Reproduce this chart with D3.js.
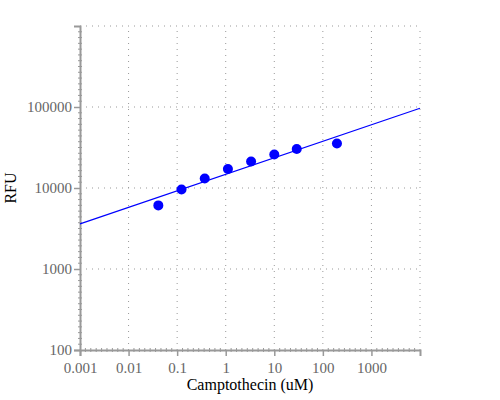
<!DOCTYPE html>
<html>
<head>
<meta charset="utf-8">
<script src="https://cdn.jsdelivr.net/npm/d3@7"></script>
<style>
body { margin: 0; background: #fff; }
svg { display: block; }
</style>
</head>
<body>
<div id="chart"></div>
<script>
// data
var conc = [0.041, 0.123, 0.37, 1.11, 3.33, 10, 29, 195];
var rfu = [6100, 9600, 13100, 17200, 21200, 25900, 30300, 35400];
// fitted line end points
var fitX = [0.001, 10000];
var fitY = [3600, 96500];
var xTicks = [0.001, 0.01, 0.1, 1, 10, 100, 1000];
var yTicks = [100, 1000, 10000, 100000];

var width = 500, height = 400;
var margin = {top: 26, right: 80, bottom: 50, left: 80};

var svg = d3.select("#chart").append("svg")
    .attr("width", width)
    .attr("height", height);

var x = d3.scaleLog().domain([0.001, 10000]).range([margin.left, width - margin.right]);
var y = d3.scaleLog().domain([100, 1000000]).range([height - margin.bottom, margin.top]);

var grey = "#999";
var font = "'Liberation Serif', 'DejaVu Serif', serif";

// dotted grid on every decade, including the far edges
var xGrid = [0.001, 0.01, 0.1, 1, 10, 100, 1000, 10000];
var yGrid = [100, 1000, 10000, 100000, 1000000];

svg.append("g").selectAll("line.vg")
    .data(xGrid.slice(1))
    .enter().append("line")
    .attr("x1", function(d) { return x(d); })
    .attr("x2", function(d) { return x(d); })
    .attr("y1", y(100))
    .attr("y2", y(1000000))
    .attr("stroke", grey)
    .attr("stroke-width", 1)
    .attr("stroke-dasharray", "1,5");

svg.append("g").selectAll("line.hg")
    .data(yGrid.slice(1))
    .enter().append("line")
    .attr("x1", x(0.001))
    .attr("x2", x(10000))
    .attr("y1", function(d) { return y(d); })
    .attr("y2", function(d) { return y(d); })
    .attr("stroke", grey)
    .attr("stroke-width", 1)
    .attr("stroke-dasharray", "1,5");

// minor ticks, evenly spaced inside each decade
var xMinor = [];
for (var k = -3; k < 4; k++) for (var j = 1; j < 9; j++) xMinor.push(Math.pow(10, k + j / 9));
var yMinor = [];
for (var k2 = 2; k2 < 6; k2++) for (var j2 = 1; j2 < 14; j2++) yMinor.push(Math.pow(10, k2 + j2 / 14));

var xAxis = d3.axisBottom(x).tickValues(xTicks).tickFormat(function(d) { return String(+d.toPrecision(1)); }).tickSizeOuter(0).tickSize(6);
var yAxis = d3.axisLeft(y).tickValues(yTicks).tickFormat(d3.format("d")).tickSizeOuter(0).tickSize(6);

var gx = svg.append("g")
    .attr("transform", "translate(0," + y(100) + ")")
    .call(xAxis);
var gy = svg.append("g")
    .attr("transform", "translate(" + x(0.001) + ",0)")
    .call(yAxis);

[gx, gy].forEach(function(g) {
    g.select(".domain").attr("stroke", grey).attr("stroke-width", 2);
    g.selectAll(".tick line").attr("stroke", grey).attr("stroke-width", 1.5);
    g.selectAll(".tick text")
        .attr("fill", "#666")
        .style("font-family", font)
        .style("font-size", "15px");
});
gx.selectAll(".tick text").attr("dy", "0.95em");
gy.selectAll(".tick text").attr("dx", "1px");

svg.append("g").selectAll("line")
    .data(xMinor)
    .enter().append("line")
    .attr("x1", function(d) { return x(d); })
    .attr("x2", function(d) { return x(d); })
    .attr("y1", y(100) - 2)
    .attr("y2", y(100) + 2)
    .attr("stroke", grey);

svg.append("g").selectAll("line")
    .data(yMinor)
    .enter().append("line")
    .attr("x1", x(0.001) - 2)
    .attr("x2", x(0.001) + 2)
    .attr("y1", function(d) { return y(d); })
    .attr("y2", function(d) { return y(d); })
    .attr("stroke", grey);

// fit line
var line = d3.line()
    .x(function(d) { return x(d[0]); })
    .y(function(d) { return y(d[1]); });

svg.append("path")
    .datum(d3.zip(fitX, fitY))
    .attr("d", line)
    .attr("fill", "none")
    .attr("stroke", "#0000ff")
    .attr("stroke-width", 1.2);

// points
svg.append("g").selectAll("circle")
    .data(d3.zip(conc, rfu))
    .enter().append("circle")
    .attr("cx", function(d) { return x(d[0]); })
    .attr("cy", function(d) { return y(d[1]); })
    .attr("r", 5)
    .attr("fill", "#0000ff");

// axis titles
svg.append("text")
    .attr("x", (x(0.001) + x(10000)) / 2)
    .attr("y", 390)
    .attr("text-anchor", "middle")
    .style("font-family", font)
    .style("font-size", "16px")
    .text("Camptothecin (uM)");

svg.append("text")
    .attr("transform", "translate(16," + ((y(100) + y(1000000)) / 2) + ") rotate(-90)")
    .attr("text-anchor", "middle")
    .style("font-family", font)
    .style("font-size", "16px")
    .text("RFU");
</script>
</body>
</html>
